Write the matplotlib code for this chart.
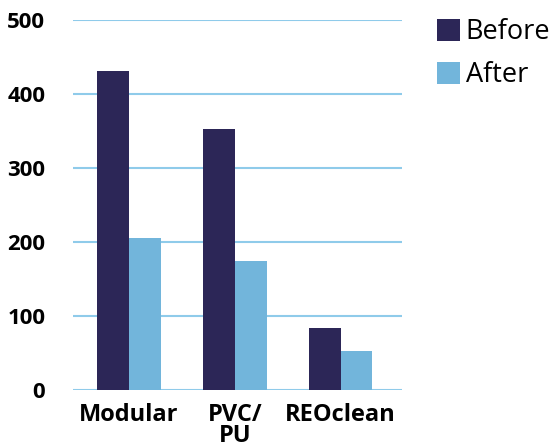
import matplotlib
matplotlib.use("Agg")
import matplotlib.pyplot as plt
import numpy as np

categories = ["Modular", "PVC/\nPU", "REOclean"]
before = [431, 353, 84]
after = [205, 174, 53]
series_names = ["Before", "After"]
yticks = [0, 100, 200, 300, 400, 500]

c_before = "#2c2657"
c_after = "#72b5db"
c_grid = "#8fcbea"

plt.rcParams['font.family'] = ['Open Sans', 'DejaVu Sans']

fig = plt.figure(figsize=(5.52, 4.48), dpi=100)
ax = fig.add_axes([73/552, 1-390/448, (402-73)/552, 370/448])

x = np.arange(len(categories))
w = 0.30
b1 = ax.bar(x - w/2, before, w, color=c_before, label=series_names[0], zorder=3)
b2 = ax.bar(x + w/2, after, w, color=c_after, label=series_names[1], zorder=3)

ax.set_xlim(-0.53, 2.58)
ax.set_ylim(0, 500)
ax.set_yticks(yticks)
ax.set_yticklabels([str(t) for t in yticks], fontsize=16, fontweight='bold')
ax.set_xticks(x)
ax.set_xticklabels(categories, fontsize=17, fontweight='bold', linespacing=0.88, va='top')
ax.tick_params(axis='both', length=0)
ax.tick_params(axis='y', pad=20)
ax.tick_params(axis='x', pad=9)
for s in ax.spines.values():
    s.set_visible(False)
ax.grid(axis='y', color=c_grid, linewidth=1.5, zorder=0)
ax.set_axisbelow(True)

leg = fig.legend(handles=[b1, b2], loc='upper left', bbox_to_anchor=(432/552, 1-13/448),
                 frameon=False, fontsize=19.5, handlelength=0.85, handleheight=0.85,
                 handletextpad=0.2, labelspacing=0.55, borderaxespad=0, borderpad=0.2)

fig.savefig("out.png", dpi=100)
